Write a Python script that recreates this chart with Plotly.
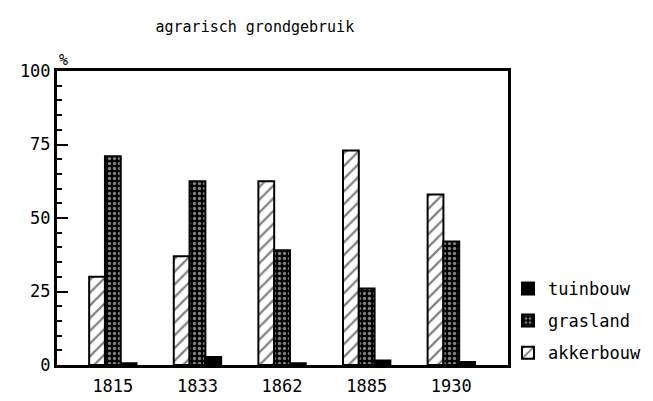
import plotly.graph_objects as go

years = ["1815", "1833", "1862", "1885", "1930"]
akkerbouw = [30, 37, 62.5, 73, 58]
grasland = [71, 62.5, 39, 26, 42]
tuinbouw = [0.6, 2.7, 0.6, 1.5, 1]
y_ticks = [0, 25, 50, 75, 100]

FONT = "DejaVu Sans Mono"

fig = go.Figure()
fig.add_trace(go.Bar(
    x=years, y=akkerbouw, name="akkerbouw", legendrank=3, legendgroup="a",
    marker=dict(color="white", line=dict(color="black", width=2),
                pattern=dict(shape="/", fgcolor="black", bgcolor="white", size=9, solidity=0.25)),
))
fig.add_trace(go.Bar(
    x=years, y=grasland, name="grasland", legendrank=2, legendgroup="g",
    marker=dict(color="black", line=dict(color="black", width=2),
                pattern=dict(shape=".", fgcolor="white", bgcolor="black", size=5, solidity=0.35)),
))
fig.add_trace(go.Bar(
    x=years, y=tuinbouw, name="tuinbouw", legendrank=1, legendgroup="t",
    marker=dict(color="black", line=dict(color="black", width=2)),
))

fig.update_layout(
    width=653, height=401,
    margin=dict(l=40, r=153, t=63, b=44),
    paper_bgcolor="white", plot_bgcolor="white",
    barmode="group", bargap=0.44, bargroupgap=0,
    title=dict(text="agrarisch grondgebruik", x=0.378, xanchor="center", y=0.953, yanchor="middle",
               font=dict(family=FONT, size=15, color="black")),
    showlegend=True,
    legend=dict(x=1.0, xanchor="left", y=0.32, yanchor="top", traceorder="grouped",
                tracegroupgap=7, font=dict(family=FONT, size=17, color="black"),
                bgcolor="rgba(0,0,0,0)", itemwidth=30),
    font=dict(family=FONT, color="black"),
)
fig.update_xaxes(
    range=[-0.66, 4.67], showline=True, linecolor="black", linewidth=3, mirror=True,
    ticks="", showgrid=False, ticklabelstandoff=4, tickfont=dict(family=FONT, size=17, color="black"),
)
fig.update_yaxes(
    range=[0, 100], tickvals=y_ticks, showline=True, linecolor="black", linewidth=3, mirror=True,
    ticks="inside", ticklen=11, tickwidth=2, tickcolor="black", showgrid=False, zeroline=False,
    minor=dict(dtick=5, ticks="inside", ticklen=5, tickwidth=2, tickcolor="black", showgrid=False),
    tickfont=dict(family=FONT, size=17, color="black"),
)
fig.add_annotation(text="%", xref="paper", yref="paper", x=0.0, y=1.0, xanchor="left", yanchor="bottom",
                   showarrow=False, font=dict(family=FONT, size=15, color="black"))

fig.write_html("out.html")
